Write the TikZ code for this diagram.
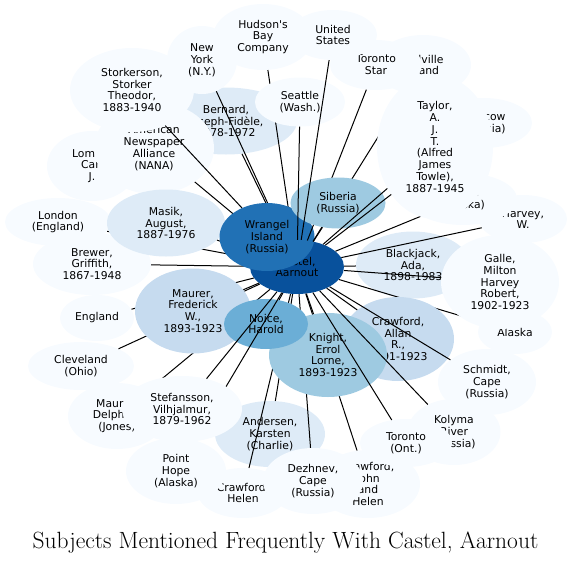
\documentclass[tikz,border=0pt]{standalone}
\usepackage{fontspec}
\usepackage{xcolor}
\usepackage{tikz}
\usetikzlibrary{shapes.geometric}
\newfontfamily\subjfont{DejaVu Sans}
\definecolor{blueA}{HTML}{F7FBFF}
\definecolor{blueB}{HTML}{DEEBF7}
\definecolor{blueC}{HTML}{C6DBEF}
\definecolor{blueD}{HTML}{9ECAE1}
\definecolor{blueE}{HTML}{6BAED6}
\definecolor{blueF}{HTML}{2171B5}
\definecolor{blueG}{HTML}{08519C}

\begin{document}
\begin{tikzpicture}[
  x=1pt, y=-1pt,
  blob/.style={ellipse, inner sep=0pt, align=center, fill=blueA, font=\subjfont\fontsize{10.8}{11.8}\selectfont},
  sz/.style 2 args={minimum width=#1pt, minimum height=#2pt},
  link/.style={line width=1pt}
]
\useasboundingbox (0,0) rectangle (571,563);
\node[blob, sz={94}{54}, fill=blueG] (castel) at (297,267) {Castel,\\Aarnout};
\node[blob, sz={106}{48}] (london) at (58,222) {London\\(England)};
\draw[link] (castel) -- (london);
\node[blob, sz={118}{62}] (brewer) at (92,264) {Brewer,\\Griffith,\\1867-1948};
\draw[link] (castel) -- (brewer);
\node[blob, sz={90}{70}] (lomen) at (92,166) {Lomen,\\Carl\\J.};
\draw[link] (castel) -- (lomen);
\node[blob, sz={142}{67}, fill=blueB] (bernard) at (226,121) {Bernard,\\Joseph-Fidèle,\\1878-1972};
\draw[link] (castel) -- (bernard);
\node[blob, sz={120}{92}] (nana) at (154,148) {American\\Newspaper\\Alliance\\(NANA)};
\draw[link] (castel) -- (nana);
\node[blob, sz={124}{84}] (storkerson) at (132,90) {Storkerson,\\Storker\\Theodor,\\1883-1940};
\draw[link] (castel) -- (storkerson);
\node[blob, sz={70}{68}] (newyork) at (202,60) {New\\York\\(N.Y.)};
\draw[link] (castel) -- (newyork);
\node[blob, sz={100}{66}] (hudson) at (263,37) {Hudson's\\Bay\\Company};
\draw[link] (castel) -- (hudson);
\node[blob, sz={118}{67}, fill=blueB] (masik) at (166,223) {Masik,\\August,\\1887-1976};
\draw[link] (castel) -- (masik);
\node[blob, sz={95}{68}, fill=blueF] (wrangel) at (267,237) {Wrangel\\Island\\(Russia)};
\node[blob, sz={90}{49}] (seattle) at (300,102) {Seattle\\(Wash.)};
\node[blob, sz={96}{60}] (melville) at (423,65) {Melville\\Island};
\draw[link] (castel) -- (melville);
\node[blob, sz={92}{50}] (tstar) at (376,65) {Toronto\\Star};
\draw[link] (castel) -- (tstar);
\node[blob, sz={88}{50}] (us) at (333,35) {United\\States};
\node[blob, sz={95}{51}, fill=blueD] (siberia) at (338,203) {Siberia\\(Russia)};
\draw[link] (castel) -- (siberia);
\draw[link] (castel) -- (seattle);
\draw[link] (castel) -- (us);
\node[blob, sz={114}{67}, fill=blueB] (blackjack) at (413,265) {Blackjack,\\Ada,\\1898-1983};
\draw[link] (castel) -- (blackjack);
\node[blob, sz={96}{50}] (moscow) at (484,123) {Moscow\\(Russia)};
\draw[link] (castel) -- (moscow);
\node[blob, sz={88}{48}] (harvey) at (523,219) {Harvey,\\W.};
\draw[link] (castel) -- (harvey);
\node[blob, sz={108}{52}] (nome) at (463,199) {Nome\\(Alaska)};
\draw[link] (castel) -- (nome);
\node[blob, sz={116}{144}] (taylor) at (435,147) {Taylor,\\A.\\J.\\T.\\(Alfred\\James\\Towle),\\1887-1945};
\draw[link] (castel) -- (taylor);
\node[blob, sz={74}{44}] (alaska) at (515,332) {Alaska};
\draw[link] (castel) -- (alaska);
\node[blob, sz={118}{94}] (galle) at (500,282) {Galle,\\Milton\\Harvey\\Robert,\\1902-1923};
\draw[link] (castel) -- (galle);
\node[blob, sz={112}{84}, fill=blueC] (crawfordallan) at (398,339) {Crawford,\\Allan\\R.,\\1891-1923};
\draw[link] (castel) -- (crawfordallan);
\node[blob, sz={98}{66}] (schmidt) at (487,382) {Schmidt,\\Cape\\(Russia)};
\draw[link] (castel) -- (schmidt);
\node[blob, sz={93}{66}] (kolyma) at (454,432) {Kolyma\\River\\(Russia)};
\node[blob, sz={110}{66}, fill=blueB] (andersen) at (270,434) {Andersen,\\Karsten\\(Charlie)};
\draw[link] (castel) -- (andersen);
\node[blob, sz={90}{50}] (crawfordhelen) at (243,493) {Crawford,\\Helen};
\draw[link] (castel) -- (crawfordhelen);
\node[blob, sz={104}{68}] (crawfordjohn) at (368,484) {Crawford,\\John\\and\\Helen};
\draw[link] (castel) -- (crawfordjohn);
\node[blob, sz={100}{66}] (dezhnev) at (313,481) {Dezhnev,\\Cape\\(Russia)};
\draw[link] (castel) -- (dezhnev);
\node[blob, sz={118}{84}, fill=blueD] (knight) at (328,355) {Knight,\\Errol\\Lorne,\\1893-1923};
\draw[link] (castel) -- (knight);
\draw[link] (castel) -- (kolyma);
\node[blob, sz={92}{48}] (toronto) at (406,443) {Toronto\\(Ont.)};
\draw[link] (castel) -- (toronto);
\node[blob, sz={98}{66}] (delphine) at (117,416) {Maurer,\\Delphine\\(Jones)};
\draw[link] (castel) -- (delphine);
\node[blob, sz={106}{48}] (cleveland) at (81,366) {Cleveland\\(Ohio)};
\draw[link] (castel) -- (cleveland);
\node[blob, sz={74}{46}] (england) at (97,318) {England};
\draw[link] (castel) -- (england);
\node[blob, sz={116}{85}, fill=blueC] (maurerfred) at (193,311) {Maurer,\\Frederick\\W.,\\1893-1923};
\draw[link] (castel) -- (maurerfred);
\node[blob, sz={84}{50}, fill=blueE] (noice) at (266,324) {Noice,\\Harold};
\draw[link] (castel) -- (noice);
\node[blob, sz={100}{66}] (pointhope) at (176,471) {Point\\Hope\\(Alaska)};
\draw[link] (castel) -- (pointhope);
\node[blob, sz={120}{66}] (stefansson) at (182,409) {Stefansson,\\Vilhjalmur,\\1879-1962};
\draw[link] (castel) -- (stefansson);
\node[font=\fontsize{23.5}{27}\selectfont, anchor=base] (title) at (285.5,548) {Subjects Mentioned Frequently With Castel, Aarnout};
\end{tikzpicture}
\end{document}
